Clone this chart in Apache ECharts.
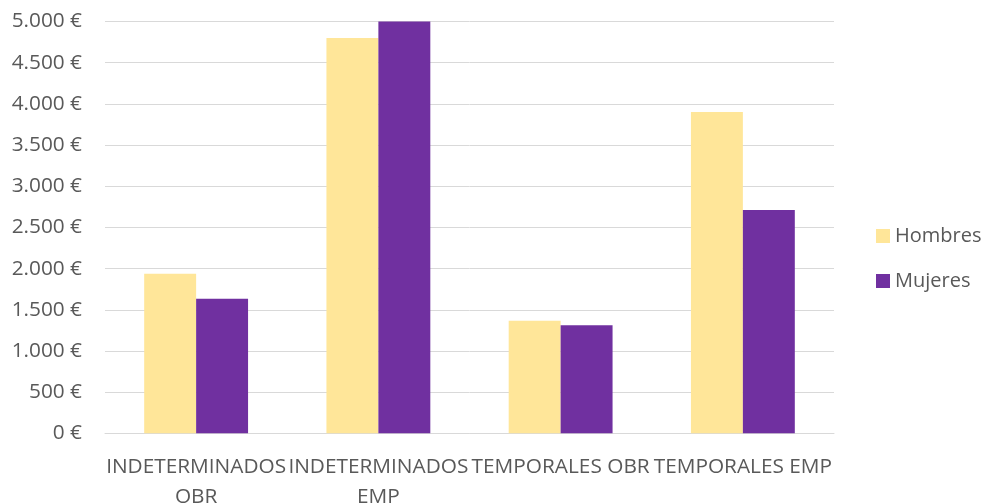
<!DOCTYPE html>
<html>
<head>
<meta charset="utf-8">
<script src="https://cdn.jsdelivr.net/npm/echarts@6/dist/echarts.min.js"></script>
<style>html,body{margin:0;padding:0;background:#fff}#c{width:985px;height:504px}</style>
</head>
<body>
<div id="c"></div>
<script>
const categories = ["INDETERMINADOS\nOBR", "INDETERMINADOS\nEMP", "TEMPORALES OBR", "TEMPORALES EMP"];
const hombres = [1937, 4800, 1367, 3900];
const mujeres = [1633, 5000, 1311, 2710];
const seriesNames = ["Hombres", "Mujeres"];

const FONT = "'Open Sans', sans-serif";
const GRAY = "#595959";
function fmt(v){
  return String(v).replace(/\B(?=(\d{3})+(?!\d))/g, ".") + " €";
}
const chart = echarts.init(document.getElementById('c'), null, {renderer:'canvas'});
chart.setOption({
  animation: false,
  grid: {left: 105, right: 151, top: 21.5, bottom: 70.7, containLabel: false, outerBoundsMode: 'none'},
  legend: {
    orient: 'vertical', left: 876, top: 226, padding: 0,
    itemWidth: 14, itemHeight: 14, itemGap: 25, icon: 'rect',
    textStyle: {fontFamily: FONT, fontSize: 20, color: GRAY, padding:[0,0,0,0]},
    data: seriesNames
  },
  xAxis: {
    type: 'category', data: categories,
    axisLine: {show: true, lineStyle: {color: '#d9d9d9', width: 1}},
    axisTick: {show: false},
    axisLabel: {interval: 0, margin: 19, fontFamily: FONT, fontSize: 20.8, color: GRAY, lineHeight: 30}
  },
  yAxis: {
    type: 'value', min: 0, max: 5000, interval: 500,
    axisLine: {show: false}, axisTick: {show: false},
    splitLine: {lineStyle: {color: '#d9d9d9', width: 1}},
    axisLabel: {margin: 23, fontFamily: FONT, fontSize: 20.8, color: GRAY, formatter: fmt}
  },
  series: [
    {name: seriesNames[0], type: 'bar', data: hombres, barGap: '0%', barCategoryGap: '43%',
     itemStyle: {color: '#FFE699'}},
    {name: seriesNames[1], type: 'bar', data: mujeres, barGap: '0%', barCategoryGap: '43%',
     itemStyle: {color: '#7030A0'}}
  ]
});
</script>
</body>
</html>
